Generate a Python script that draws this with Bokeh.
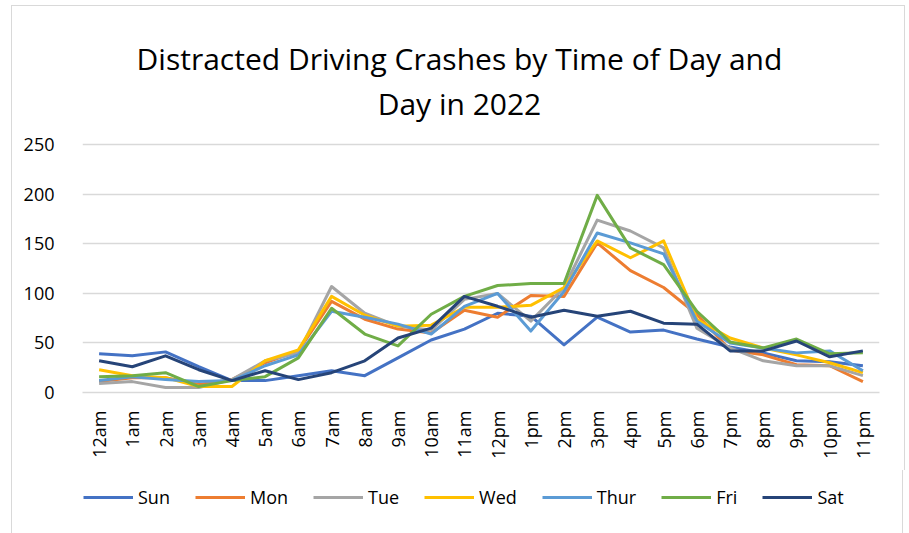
import math
from bokeh.plotting import figure
from bokeh.layouts import column
from bokeh.models import Range1d, FactorRange, Legend, LegendItem, Label
from bokeh.embed import file_html
from bokeh.resources import INLINE

hours = ["12am", "1am", "2am", "3am", "4am", "5am", "6am", "7am", "8am", "9am",
         "10am", "11am", "12pm", "1pm", "2pm", "3pm", "4pm", "5pm", "6pm", "7pm",
         "8pm", "9pm", "10pm", "11pm"]

sun = [39, 37, 41, 26, 12, 12, 17, 22, 17, 35, 53, 64, 80, 77, 48, 76, 61, 63, 54, 46, 40, 32, 31, 27]
mon = [11, 15, 15, 8, 13, 30, 42, 92, 74, 64, 60, 83, 76, 98, 97, 151, 123, 106, 79, 43, 38, 28, 27, 11]
tue = [9, 11, 5, 5, 13, 32, 40, 107, 80, 67, 63, 94, 100, 72, 106, 174, 163, 146, 65, 45, 32, 27, 27, 17]
wed = [23, 17, 15, 6, 6, 32, 43, 97, 78, 67, 68, 86, 86, 88, 106, 153, 136, 153, 74, 55, 45, 38, 30, 20]
thu = [12, 16, 13, 11, 12, 27, 38, 82, 76, 69, 59, 87, 100, 62, 102, 161, 151, 140, 72, 50, 45, 40, 42, 22]
fri = [16, 17, 20, 6, 12, 16, 35, 85, 59, 47, 79, 97, 108, 110, 110, 199, 146, 129, 82, 51, 45, 54, 39, 40]
sat = [32, 26, 37, 23, 12, 22, 13, 20, 32, 55, 65, 97, 87, 76, 83, 77, 82, 70, 69, 42, 42, 52, 36, 42]

series_names = ["Sun", "Mon", "Tue", "Wed", "Thur", "Fri", "Sat"]
series_values = [sun, mon, tue, wed, thu, fri, sat]
series_colors = ["#4472C4", "#ED7D31", "#A5A5A5", "#FFC000", "#5B9BD5", "#70AD47", "#264478"]

y_ticks = [0, 50, 100, 150, 200, 250]
title_lines = ["Distracted Driving Crashes by Time of Day and", "Day in 2022"]

FONT = "Open Sans"
TXT = "#000000"
EDGE = "1px solid #D9D9D9"
W = 892

# layout geometry in pixels (frame spans the title area so the titles are not clipped)
FRAME_W = 795
PLOT_H = 247          # pixels from value 0 to value 250
TOP_EXTRA = 124       # pixels of frame above the 250 line (title area)
FRAME_H = PLOT_H + TOP_EXTRA
Y_MAX = y_ticks[-1]
y_top = Y_MAX * FRAME_H / PLOT_H
px_to_val = Y_MAX / PLOT_H

p = figure(frame_width=FRAME_W, frame_height=FRAME_H,
           x_range=FactorRange(*hours, range_padding=0),
           y_range=Range1d(0, y_top), output_backend="svg", toolbar_location=None,
           title=None, min_border_left=70, min_border_right=27,
           min_border_top=14, min_border_bottom=79,
           styles={"margin-left": "11px", "margin-top": "5px",
                   "border-left": EDGE, "border-right": EDGE, "border-top": EDGE})
p.outline_line_color = None
p.background_fill_color = "white"
p.border_fill_color = "white"

# title lines: baselines 85.7px and 41.5px above the 250 gridline, centred at 376px
title_x = 376 * len(hours) / FRAME_W
for txt, above_px in zip(title_lines, [85.7, 41.5]):
    p.add_layout(Label(x=title_x, y=Y_MAX + above_px * px_to_val, text=txt,
                       text_align="center", text_baseline="alphabetic",
                       text_font=FONT, text_font_size="30px", text_color=TXT))

for name, vals, col in zip(series_names, series_values, series_colors):
    p.line(hours, vals, line_color=col, line_width=3, line_join="round")

p.xgrid.grid_line_color = None
p.ygrid.grid_line_color = "#D9D9D9"
p.ygrid.grid_line_width = 1.3
p.yaxis.ticker = y_ticks

p.yaxis.axis_line_color = None
p.yaxis.major_tick_line_color = None
p.yaxis.minor_tick_line_color = None
p.yaxis.major_label_standoff = 22
p.yaxis.major_label_text_font = FONT
p.yaxis.major_label_text_font_size = "18px"
p.yaxis.major_label_text_color = TXT

p.xaxis.axis_line_color = "#D9D9D9"
p.xaxis.axis_line_width = 1.3
p.xaxis.major_tick_line_color = None
p.xaxis.minor_tick_line_color = None
p.xaxis.major_label_orientation = math.pi / 2
p.xaxis.major_label_standoff = 12
p.xaxis.major_label_text_font = FONT
p.xaxis.major_label_text_font_size = "18px"
p.xaxis.major_label_text_color = TXT

# ---- legend strip (same series, plotted out of view; only the legend shows) ----
LH = 63
lfig = figure(width=W, height=LH, x_range=FactorRange(*hours),
              y_range=Range1d(1000, 1001), output_backend="svg",
              toolbar_location=None, title=None, x_axis_location=None,
              y_axis_location=None, min_border=0,
              styles={"margin-left": "11px",
                      "border-left": EDGE, "border-right": EDGE})
lfig.grid.visible = False
lfig.outline_line_color = None
lfig.background_fill_color = "white"
lfig.border_fill_color = "white"
items = []
for name, vals, col in zip(series_names, series_values, series_colors):
    r = lfig.line(hours, vals, line_color=col, line_width=3)
    items.append(LegendItem(label=name, renderers=[r]))

legend = Legend(items=items, orientation="horizontal", location=(1, 24),
                glyph_width=50, glyph_height=20, label_standoff=5, spacing=25,
                padding=0, margin=0, border_line_color=None,
                background_fill_alpha=0, label_text_font=FONT,
                label_text_font_size="18px", label_text_color=TXT)
lfig.add_layout(legend, "center")

layout = column(p, lfig, spacing=0)

open("out.html", "w").write(file_html(layout, INLINE))
